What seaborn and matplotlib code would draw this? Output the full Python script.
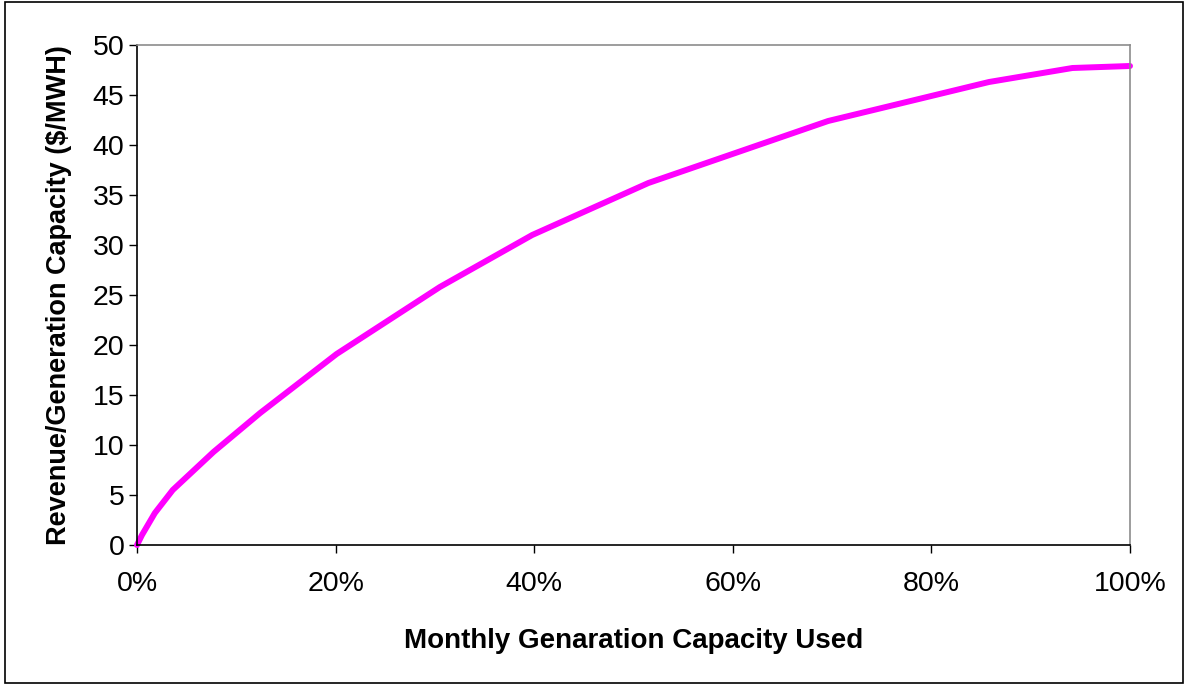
import matplotlib
matplotlib.use("Agg")
import matplotlib.pyplot as plt
from matplotlib.patches import Rectangle
from matplotlib.ticker import FuncFormatter
import seaborn as sns
import pandas as pd

# Share of monthly generation capacity used (%) and resulting revenue ($/MWH)
capacity_used = [0.0, 0.5, 1.8, 3.6, 7.7, 12.4, 20.1, 30.5, 39.8, 51.5, 69.6, 85.8, 94.2, 100.0]
revenue = [0.0, 1.0, 3.2, 5.5, 9.3, 13.2, 19.1, 25.8, 31.0, 36.2, 42.4, 46.3, 47.7, 47.9]

x_ticks = [0, 20, 40, 60, 80, 100]
y_ticks = [0, 5, 10, 15, 20, 25, 30, 35, 40, 45, 50]

sns.set_theme(style="white")
plt.rcParams["font.family"] = ["Liberation Sans", "DejaVu Sans"]

df = pd.DataFrame({"used": capacity_used, "revenue": revenue})

fig = plt.figure(figsize=(11.85, 6.85), dpi=100)
ax = fig.add_axes([137 / 1185, 1 - 545 / 685, (1130 - 137) / 1185, (545 - 45) / 685])

sns.lineplot(data=df, x="used", y="revenue", ax=ax, color="#FF00FF",
             linewidth=4.3, sort=False, solid_capstyle="round", clip_on=False)

ax.set_xlim(0, 100)
ax.set_ylim(0, 50)
ax.set_xticks(x_ticks)
ax.set_yticks(y_ticks)
ax.xaxis.set_major_formatter(FuncFormatter(lambda v, _: f"{v:.0f}%"))

ax.tick_params(axis="both", which="major", direction="out", length=6, width=1,
               color="black", labelsize=20.5, labelcolor="black")
ax.tick_params(axis="x", pad=13)
ax.tick_params(axis="y", pad=3)
ax.xaxis.set_ticks_position("bottom")
ax.yaxis.set_ticks_position("left")

for side in ["left", "bottom"]:
    ax.spines[side].set_color("black")
    ax.spines[side].set_linewidth(1.2)
for side in ["top", "right"]:
    ax.spines[side].set_color("#8c8c8c")
    ax.spines[side].set_linewidth(1.2)

ax.set_xlabel("Monthly Genaration Capacity Used", fontsize=20, fontweight="bold",
              color="black", labelpad=22)
ax.set_ylabel("Revenue/Generation Capacity ($/MWH)", fontsize=19.5, fontweight="bold",
              color="black", labelpad=15)

# Frame around the whole figure
fig.patches.append(Rectangle((5 / 1185, 2 / 685), 1 - 7 / 1185, 1 - 4 / 685,
                             transform=fig.transFigure, fill=False,
                             edgecolor="black", linewidth=1.2))

fig.savefig("out.png", dpi=100, facecolor="white")
